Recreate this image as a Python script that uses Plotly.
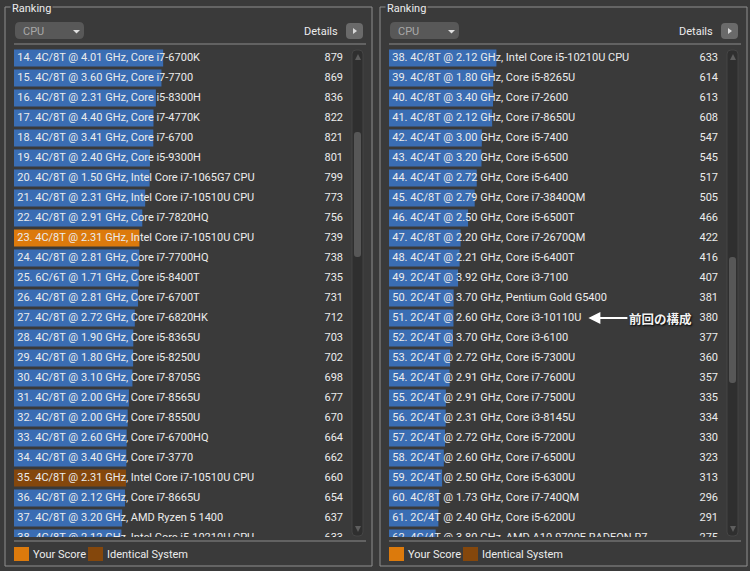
import plotly.graph_objects as go

W, H = 750, 571

# ---------------- data ----------------
left_ranks = list(range(14, 39))
left_names = [
    "4C/8T @ 4.01 GHz, Core i7-6700K",
    "4C/8T @ 3.60 GHz, Core i7-7700",
    "4C/8T @ 2.31 GHz, Core i5-8300H",
    "4C/8T @ 4.40 GHz, Core i7-4770K",
    "4C/8T @ 3.41 GHz, Core i7-6700",
    "4C/8T @ 2.40 GHz, Core i5-9300H",
    "4C/8T @ 1.50 GHz, Intel Core i7-1065G7 CPU",
    "4C/8T @ 2.31 GHz, Intel Core i7-10510U CPU",
    "4C/8T @ 2.91 GHz, Core i7-7820HQ",
    "4C/8T @ 2.31 GHz, Intel Core i7-10510U CPU",
    "4C/8T @ 2.81 GHz, Core i7-7700HQ",
    "6C/6T @ 1.71 GHz, Core i5-8400T",
    "4C/8T @ 2.81 GHz, Core i7-6700T",
    "4C/8T @ 2.72 GHz, Core i7-6820HK",
    "4C/8T @ 1.90 GHz, Core i5-8365U",
    "4C/8T @ 1.80 GHz, Core i5-8250U",
    "4C/8T @ 3.10 GHz, Core i7-8705G",
    "4C/8T @ 2.00 GHz, Core i7-8565U",
    "4C/8T @ 2.00 GHz, Core i7-8550U",
    "4C/8T @ 2.60 GHz, Core i7-6700HQ",
    "4C/8T @ 3.40 GHz, Core i7-3770",
    "4C/8T @ 2.31 GHz, Intel Core i7-10510U CPU",
    "4C/8T @ 2.12 GHz, Core i7-8665U",
    "4C/8T @ 3.20 GHz, AMD Ryzen 5 1400",
    "4C/8T @ 2.12 GHz, Intel Core i5-10210U CPU",
]
left_scores = [879, 869, 836, 822, 821, 801, 799, 773, 756, 739, 738, 735, 731,
               712, 703, 702, 698, 677, 670, 664, 662, 660, 654, 637, 633]
left_kind = ["n"] * 25
left_kind[23 - 14] = "your"
left_kind[35 - 14] = "identical"

right_ranks = list(range(38, 63))
right_names = [
    "4C/8T @ 2.12 GHz, Intel Core i5-10210U CPU",
    "4C/8T @ 1.80 GHz, Core i5-8265U",
    "4C/8T @ 3.40 GHz, Core i7-2600",
    "4C/8T @ 2.12 GHz, Core i7-8650U",
    "4C/4T @ 3.00 GHz, Core i5-7400",
    "4C/4T @ 3.20 GHz, Core i5-6500",
    "4C/4T @ 2.72 GHz, Core i5-6400",
    "4C/8T @ 2.79 GHz, Core i7-3840QM",
    "4C/4T @ 2.50 GHz, Core i5-6500T",
    "4C/8T @ 2.20 GHz, Core i7-2670QM",
    "4C/4T @ 2.21 GHz, Core i5-6400T",
    "2C/4T @ 3.92 GHz, Core i3-7100",
    "2C/4T @ 3.70 GHz, Pentium Gold G5400",
    "2C/4T @ 2.60 GHz, Core i3-10110U",
    "2C/4T @ 3.70 GHz, Core i3-6100",
    "2C/4T @ 2.72 GHz, Core i5-7300U",
    "2C/4T @ 2.91 GHz, Core i7-7600U",
    "2C/4T @ 2.91 GHz, Core i7-7500U",
    "2C/4T @ 2.31 GHz, Core i3-8145U",
    "2C/4T @ 2.72 GHz, Core i5-7200U",
    "2C/4T @ 2.60 GHz, Core i7-6500U",
    "2C/4T @ 2.50 GHz, Core i5-6300U",
    "4C/8T @ 1.73 GHz, Core i7-740QM",
    "2C/4T @ 2.40 GHz, Core i5-6200U",
    "4C/4T @ 3.80 GHz, AMD A10-9700E RADEON R7",
]
right_scores = [633, 614, 613, 608, 547, 545, 517, 505, 466, 422, 416, 407, 381,
                380, 377, 360, 357, 335, 334, 330, 323, 313, 296, 291, 275]
right_kind = ["n"] * 25

note_rank = 51
note_text = "前回の構成"

legend_items = ["Your Score", "Identical System"]

# ---------------- style ----------------
BG = "#3a3a3a"
FRAME = "#8e8e8e"
TXT = "#ececec"
COLORS = {"n": "#3a6db3", "your": "#dc7a0c", "identical": "#84470c"}
FONT = "Roboto, Noto Sans, sans-serif"
FS = 11
XMAX = 1980
SCORE_X = 1939
LABEL_X = 19


def px(x):
    return x / W


def py(y):
    return 1 - y / H


fig = go.Figure()


def add_panel(ranks, names, scores, kinds, xa, ya):
    texts = [f"{r}. {n}" for r, n in zip(ranks, names)]
    fig.add_trace(go.Bar(
        x=scores, y=ranks, orientation="h",
        marker=dict(color=[COLORS[k] for k in kinds], line=dict(width=0)),
        xaxis=xa, yaxis=ya, hoverinfo="skip", showlegend=False,
    ))
    fig.add_trace(go.Scatter(
        x=[LABEL_X] * len(ranks), y=ranks, mode="text", text=texts,
        textposition="middle right", cliponaxis=True,
        textfont=dict(family=FONT, size=FS, color=TXT),
        xaxis=xa, yaxis=ya, hoverinfo="skip", showlegend=False,
    ))
    fig.add_trace(go.Scatter(
        x=[SCORE_X] * len(ranks), y=ranks, mode="text",
        text=[str(s) for s in scores],
        textposition="middle left", cliponaxis=True,
        textfont=dict(family=FONT, size=FS, color=TXT),
        xaxis=xa, yaxis=ya, hoverinfo="skip", showlegend=False,
    ))


add_panel(left_ranks, left_names, left_scores, left_kind, "x", "y")
add_panel(right_ranks, right_names, right_scores, right_kind, "x2", "y2")

ydom = [py(537), py(48)]
axis_common = dict(showgrid=False, zeroline=False, showticklabels=False,
                   showline=False, ticks="", fixedrange=True)

fig.update_layout(
    width=W, height=H,
    margin=dict(l=0, r=0, t=0, b=0),
    paper_bgcolor=BG, plot_bgcolor=BG,
    bargap=0.16,
    showlegend=False,
    xaxis=dict(domain=[px(14), px(350)], range=[0, XMAX], **axis_common),
    yaxis=dict(domain=ydom, range=[left_ranks[0] + 23.95, left_ranks[0] - 0.5],
               **axis_common),
    xaxis2=dict(domain=[px(389), px(725)], range=[0, XMAX], anchor="y2", **axis_common),
    yaxis2=dict(domain=ydom, range=[right_ranks[0] + 23.95, right_ranks[0] - 0.5],
                anchor="x2", **axis_common),
)

shapes = []
annotations = []


def line(x0, y0, x1, y1, color, width=1):
    shapes.append(dict(type="line", xref="paper", yref="paper",
                       x0=px(x0), y0=py(y0), x1=px(x1), y1=py(y1),
                       line=dict(color=color, width=width)))


def rect(x0, y0, x1, y1, fill, lc=None):
    shapes.append(dict(type="rect", xref="paper", yref="paper",
                       x0=px(x0), y0=py(y0), x1=px(x1), y1=py(y1),
                       fillcolor=fill, line=dict(color=lc or fill, width=1 if lc else 0)))


def rrect(x0, y0, x1, y1, r, fill, lc=None):
    p = (f"M{px(x0 + r)},{py(y0)} L{px(x1 - r)},{py(y0)} Q{px(x1)},{py(y0)} {px(x1)},{py(y0 + r)} "
         f"L{px(x1)},{py(y1 - r)} Q{px(x1)},{py(y1)} {px(x1 - r)},{py(y1)} "
         f"L{px(x0 + r)},{py(y1)} Q{px(x0)},{py(y1)} {px(x0)},{py(y1 - r)} "
         f"L{px(x0)},{py(y0 + r)} Q{px(x0)},{py(y0)} {px(x0 + r)},{py(y0)} Z")
    shapes.append(dict(type="path", xref="paper", yref="paper", path=p,
                       fillcolor=fill, line=dict(color=lc or fill, width=1 if lc else 0)))


def tri(pts, fill):
    p = "M" + " L".join(f"{px(a)},{py(b)}" for a, b in pts) + " Z"
    shapes.append(dict(type="path", xref="paper", yref="paper", path=p,
                       fillcolor=fill, line=dict(width=0)))


def text(x, y, s, size=FS, color=TXT, xanchor="left", bg=None, **kw):
    a = dict(xref="paper", yref="paper", x=px(x), y=py(y), text=s, showarrow=False,
             xanchor=xanchor, yanchor="middle",
             font=dict(family=FONT, size=size, color=color), **kw)
    if bg:
        a["bgcolor"] = bg
        a["borderpad"] = 1
    annotations.append(a)


def panel_decor(ox, thumb):
    # outer frame
    rect(ox + 5, 7, ox + 372, 566, "rgba(0,0,0,0)", FRAME)
    text(ox + 10, 8, "Ranking", bg=BG)
    # dropdown
    rrect(ox + 15, 22, ox + 84, 39, 5, "#585858")
    text(ox + 21, 31, "CPU", color="#a8a8a8")
    tri([(ox + 73, 30), (ox + 80, 30), (ox + 76.5, 33.5)], "#e0e0e0")
    # details
    text(ox + 340, 31, "Details", xanchor="right")
    rrect(ox + 346, 23, ox + 363, 39, 4, "#6a6a6a")
    tri([(ox + 353, 28), (ox + 353, 34), (ox + 357, 31)], "#d8d8d8")
    # separators
    line(ox + 14, 44, ox + 366, 44, "#8a8a8a")
    line(ox + 14, 541, ox + 366, 541, "#8a8a8a")
    # scrollbar
    rrect(ox + 352, 50, ox + 363, 536, 4, "#2f2f2f", "#454545")
    rrect(ox + 354, thumb[0], ox + 361, thumb[1], 3, "#575757")
    tri([(ox + 355, 60), (ox + 361, 60), (ox + 358, 54)], "#5e5e5e")
    tri([(ox + 355, 526), (ox + 361, 526), (ox + 358, 532)], "#5e5e5e")
    # legend
    rect(ox + 14, 547, ox + 29, 561, COLORS["your"])
    text(ox + 31, 554, legend_items[0])
    rect(ox + 88, 547, ox + 103, 561, COLORS["identical"])
    text(ox + 105, 554, legend_items[1])


panel_decor(0, (132, 257))
panel_decor(375, (257, 383))

annotations.append(dict(
    xref="x2", yref="y2", x=1175, y=note_rank, text=f"<b>{note_text}</b>",
    showarrow=True, arrowhead=2, arrowsize=1.2, arrowwidth=2, arrowcolor="#ffffff",
    ax=72, ay=0, standoff=0,
    font=dict(family="Noto Sans CJK JP", size=12.5, color="#f2f2f2",
              shadow="1px 1px 2px #000000"),
))

fig.update_layout(shapes=shapes, annotations=annotations)
fig.write_html("out.html", config={"displayModeBar": False},
               post_script="document.body.style.margin='0';document.body.style.background='" + BG + "';")
